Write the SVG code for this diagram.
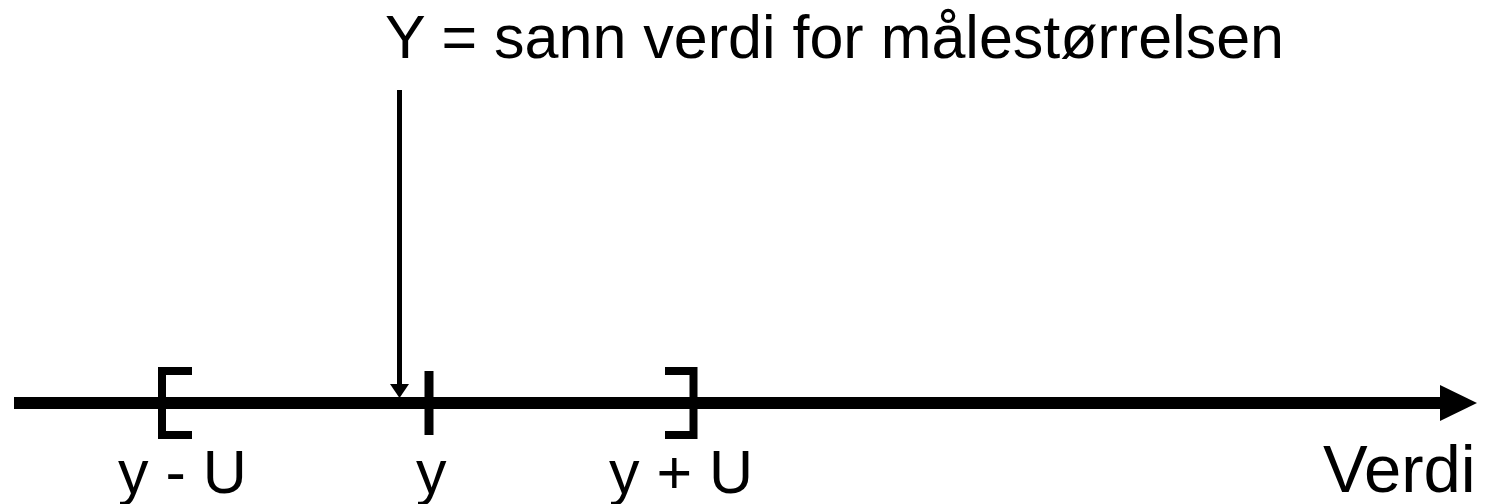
<svg xmlns="http://www.w3.org/2000/svg" width="1491" height="504" viewBox="0 0 1491 504">
<style>
text{font-family:"Liberation Sans",Arial,sans-serif;font-size:61px;fill:#000}
.thick{stroke:#000;stroke-width:12;fill:none}
.br{stroke:#000;stroke-width:8;fill:none}
</style>
<rect width="1491" height="504" fill="#fff"/>
<g id="connectors">
<line class="thick" x1="14" y1="403" x2="1442" y2="403"/>
<polygon points="1440,385 1477,403 1440,421" fill="#000"/>
<line x1="399.5" y1="90" x2="399.5" y2="386" stroke="#000" stroke-width="5"/>
<polygon points="390,384 409,384 399.5,398" fill="#000"/>
</g>
<g id="bracket-left"><polyline class="br" points="192,371 162,371 162,435 192,435"/></g>
<g id="bracket-right"><polyline class="br" points="665,371 693.5,371 693.5,435 665,435"/></g>
<g id="tick-y"><line x1="429" y1="371" x2="429" y2="435" stroke="#000" stroke-width="9"/></g>
<g id="label-top"><text x="385" y="58">Y = sann verdi for målestørrelsen</text></g>
<g id="label-ymu"><text x="118" y="493">y - U</text></g>
<g id="label-y"><text x="416" y="493">y</text></g>
<g id="label-ypu"><text x="609" y="493">y + U</text></g>
<g id="label-verdi"><text x="1323" y="492" style="font-size:67px">Verdi</text></g>
</svg>
